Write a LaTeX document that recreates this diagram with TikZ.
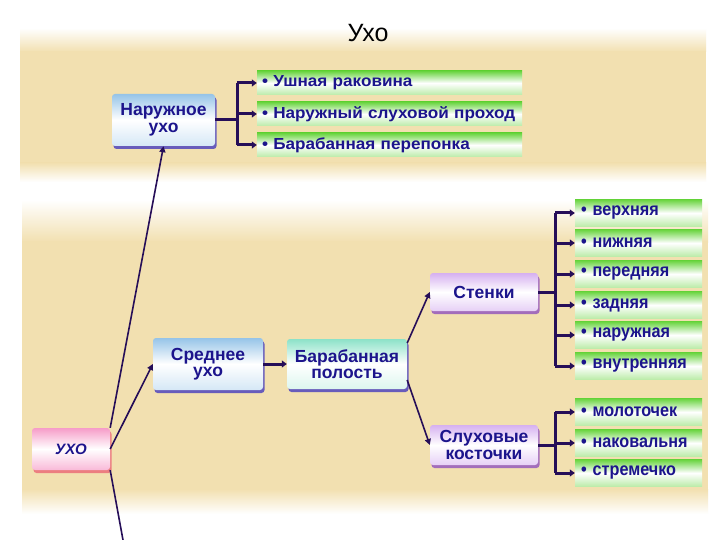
\documentclass[tikz,border=0pt]{standalone}
\usepackage{fontspec}
\setmainfont{Liberation Sans}
\newfontfamily\widefont{Liberation Sans}[FakeStretch=1.07]
\newfontfamily\narrowfont{Liberation Sans}[FakeStretch=0.9]
\usetikzlibrary{arrows.meta,shadows,calc}
\definecolor{navy}{RGB}{28,20,140}
\definecolor{lc}{RGB}{38,14,88}
\definecolor{tan}{RGB}{242,224,176}
\definecolor{gr}{RGB}{104,212,62}
\definecolor{lblue}{RGB}{150,196,232}
\definecolor{teal}{RGB}{140,226,200}
\definecolor{lav}{RGB}{214,176,240}
\definecolor{pnk}{RGB}{246,156,200}
\tikzset{
  base/.style={rectangle, rounded corners=3pt, align=center, text=navy,
    font=\fontsize{17.5}{16.5}\selectfont\bfseries, inner sep=1pt},
  bluebox/.style={base, top color=lblue, bottom color=lblue!40, middle color=white,
    drop shadow={shadow xshift=1.5pt, shadow yshift=-3pt, fill={rgb,255:red,80;green,70;blue,190}, opacity=0.85}},
  tealbox/.style={base, top color=teal, bottom color=teal!30, middle color=white,
    drop shadow={shadow xshift=1.5pt, shadow yshift=-3pt, fill={rgb,255:red,80;green,70;blue,190}, opacity=0.85}},
  lavbox/.style={base, top color=lav, bottom color=lav!60, middle color=white,
    drop shadow={shadow xshift=1.5pt, shadow yshift=-3pt, fill={rgb,255:red,150;green,90;blue,190}, opacity=0.85}},
  pinkbox/.style={base, top color=pnk, bottom color=pnk!70, middle color=white,
    drop shadow={shadow xshift=1.5pt, shadow yshift=-3pt, fill={rgb,255:red,235;green,110;blue,120}, opacity=0.85}},
  item/.style={rectangle, text=navy,
    top color=gr, bottom color=gr!45, middle color=white, align=left, inner sep=0pt},
  itemA/.style={item, font=\widefont\fontsize{16}{17}\selectfont\bfseries,
    minimum width=265pt, minimum height=24pt, text width=263pt},
  itemB/.style={item, font=\narrowfont\fontsize{18}{19}\selectfont\bfseries,
    minimum width=127pt, minimum height=27pt, text width=121pt},
  thinarr/.style={draw=lc, line width=1.6pt, -{Triangle[length=6pt,width=6pt]}},
  brk/.style={draw=lc, line width=3pt},
  brkarr/.style={draw=lc, line width=3pt, -{Triangle[length=5pt,width=7pt]}},
}
\begin{document}
\begin{tikzpicture}[x=1pt,y=-1pt]
\useasboundingbox (0,0) rectangle (720,540);
\fill[white] (0,0) rectangle (720,540);
% background bands
\fill[top color=white, bottom color=tan] (20,28) rectangle (706,52);
\fill[tan] (20,51) rectangle (706,164);
\fill[top color=tan, bottom color=white] (20,163) rectangle (706,182);
\fill[top color=white, bottom color=tan] (22,200) rectangle (708,242);
\fill[tan] (22,241) rectangle (708,490);
\fill[top color=tan, bottom color=white] (22,489) rectangle (708,514);
% title
\node (title) at (368,33) {\fontsize{25}{27}\selectfont Ухо};
% nodes
\node[bluebox, minimum width=103pt, minimum height=52pt] (nar) at (163.5,120) {Наружное\\ухо};
\node[itemA] (i1) at (389.5,83) {\hspace*{4pt}• Ушная раковина};
\node[itemA] (i2) at (389.5,114) {\hspace*{4pt}• Наружный слуховой проход};
\node[itemA] (i3) at (389.5,145) {\hspace*{4pt}• Барабанная перепонка};
\node[pinkbox, minimum width=78pt, minimum height=42pt, font=\fontsize{15}{16}\selectfont\bfseries\itshape] (uho) at (71,449) {УХО};
\node[bluebox, minimum width=110pt, minimum height=52pt] (sred) at (208,364) {Среднее\\ухо};
\node[tealbox, minimum width=120pt, minimum height=50pt] (bar) at (347,364) {Барабанная\\полость};
\node[lavbox, minimum width=108pt, minimum height=38pt] (sten) at (484,292) {Стенки};
\node[lavbox, minimum width=108pt, minimum height=40pt] (kost) at (484,445) {Слуховые\\косточки};
\node[itemB] (s1) at (638.5,213) {\,• верхняя};
\node[itemB] (s2) at (638.5,243) {\,• нижняя};
\node[itemB] (s3) at (638.5,274) {\,• передняя};
\node[itemB] (s4) at (638.5,305) {\,• задняя};
\node[itemB] (s5) at (638.5,335) {\,• наружная};
\node[itemB] (s6) at (638.5,366) {\,• внутренняя};
\node[itemB] (k1) at (638.5,412) {\,• молоточек};
\node[itemB] (k2) at (638.5,443) {\,• наковальня};
\node[itemB] (k3) at (638.5,473) {\,• стремечко};
\coordinate (down) at (123,540);
% connectors
\draw[thinarr] (uho.north east) -- (nar.south);
\draw[thinarr] (uho.east) -- (sred.west);
\draw[draw=lc, line width=1.6pt] (uho.south east) -- (down);
\draw[brkarr] (sred.east) -- (bar.west);
\draw[thinarr] ($(bar.east)+(0,-21)$) -- (sten.west);
\draw[thinarr] ($(bar.east)+(0,16)$) -- (kost.west);
% brackets
\coordinate (b1) at (237,120);
\draw[brk] (nar.east) -- (b1);
\draw[brk] (b1 |- i1.west) -- (b1 |- i3.west);
\foreach \n in {i1,i2,i3} \draw[brkarr] (b1 |- \n.west) -- (\n.west);
\coordinate (b2) at (555,292);
\draw[brk] (sten.east) -- (b2);
\draw[brk] (b2 |- s1.west) -- (b2 |- s6.west);
\foreach \n in {s1,s2,s3,s4,s5,s6} \draw[brkarr] (b2 |- \n.west) -- (\n.west);
\coordinate (b3) at (555,445);
\draw[brk] (kost.east) -- (b3);
\draw[brk] (b3 |- k1.west) -- (b3 |- k3.west);
\foreach \n in {k1,k2,k3} \draw[brkarr] (b3 |- \n.west) -- (\n.west);
\end{tikzpicture}
\end{document}
